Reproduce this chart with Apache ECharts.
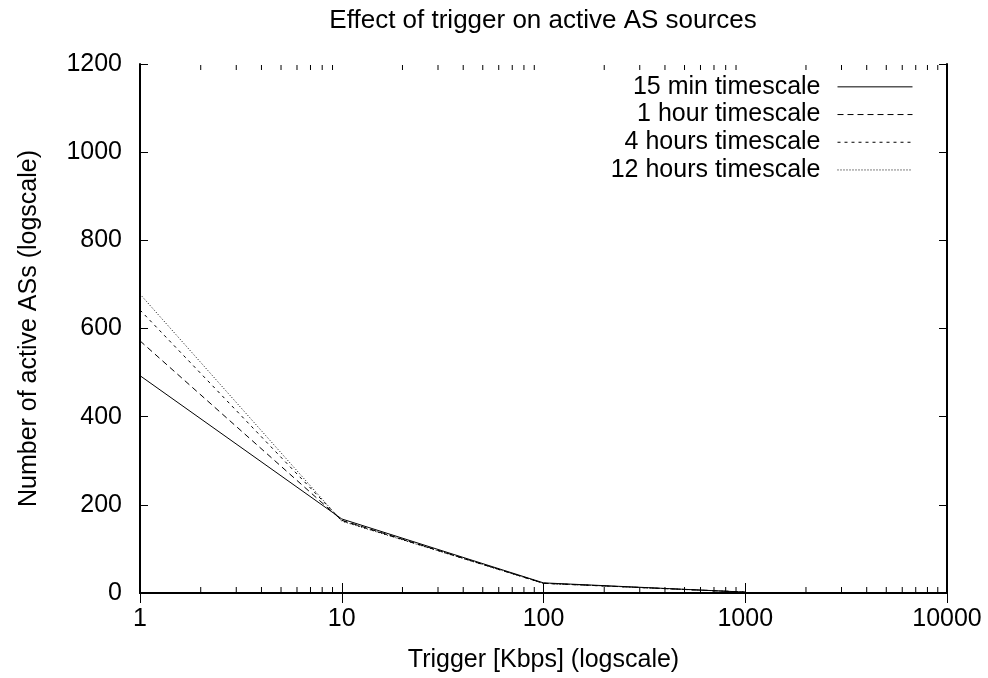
<!DOCTYPE html>
<html>
<head>
<meta charset="utf-8">
<script src="https://cdn.jsdelivr.net/npm/echarts@6/dist/echarts.min.js"></script>
<style>html,body{margin:0;padding:0;background:#fff;}#c{width:988px;height:678px;}</style>
</head>
<body>
<div id="c"></div>
<script>
const triggers = [1, 10, 100, 1000];
const min15 = [493, 168, 23, 2];
const hour1 = [572, 165, 22, 2];
const hours4 = [642, 164, 22, 2];
const hours12 = [678, 163, 22, 2];
const seriesNames = ['15 min timescale', '1 hour timescale', '4 hours timescale', '12 hours timescale'];
const xTickLabels = ['1', '10', '100', '1000', '10000'];
const minorTickValues = [2,3,4,5,6,7,8,9,20,30,40,50,60,70,80,90,200,300,400,500,600,700,800,900,2000,3000,4000,5000,6000,7000,8000,9000];

const FONT = 'Liberation Sans';
const FS = 25;
const dashes = ['solid', [6, 4], [3, 4], [1, 2]];
const values = [min15, hour1, hours4, hours12];

const chart = echarts.init(document.getElementById('c'), null, {renderer: 'canvas'});

const lineSeries = values.map((vals, i) => ({
  name: seriesNames[i],
  type: 'line',
  symbol: 'none',
  silent: true,
  animation: false,
  data: triggers.map((t, j) => [t, vals[j]]),
  lineStyle: {color: '#000', width: 1, type: dashes[i]},
  itemStyle: {color: '#000'},
  z: 3
}));

const minorSeries = {
  type: 'custom',
  silent: true,
  animation: false,
  clip: false,
  xAxisIndex: 0,
  yAxisIndex: 0,
  data: minorTickValues.map(v => [v, 0]),
  encode: {x: 0, y: 1},
  renderItem: function (params, api) {
    const v = api.value(0);
    const b = api.coord([v, 0]);
    const t = api.coord([v, 1200]);
    const L = 5;
    const st = {stroke: '#000', lineWidth: 1};
    return {
      type: 'group',
      children: [
        {type: 'line', shape: {x1: b[0], y1: b[1] - 1, x2: b[0], y2: b[1] - 1 - L}, style: st},
        {type: 'line', shape: {x1: t[0], y1: t[1] + 1, x2: t[0], y2: t[1] + 1 + L}, style: st}
      ]
    };
  },
  z: 5
};

const axisLine = {show: true, lineStyle: {color: '#000', width: 2}};

chart.setOption({
  animation: false,
  backgroundColor: '#fff',
  textStyle: {fontFamily: FONT, color: '#000'},
  title: {
    text: 'Effect of trigger on active AS sources',
    left: 543, textAlign: 'center',
    top: 8,
    padding: 0,
    textStyle: {fontFamily: FONT, fontSize: 26, fontWeight: 'normal', color: '#000'}
  },
  legend: {
    data: seriesNames,
    orient: 'vertical',
    align: 'right',
    right: 75,
    top: 73,
    padding: 0,
    itemGap: 0,
    itemWidth: 75,
    itemHeight: 14,
    selectedMode: false,
    itemStyle: {opacity: 0},
    lineStyle: {width: 1},
    textStyle: {fontFamily: FONT, fontSize: FS, color: '#000', lineHeight: 27.7, padding: [0, 12, 0, 0]}
  },
  grid: {left: 140, right: 41, top: 64, bottom: 83, containLabel: false},
  xAxis: [{
    type: 'log',
    logBase: 10,
    min: 1,
    max: 10000,
    position: 'bottom',
    name: 'Trigger [Kbps] (logscale)',
    nameLocation: 'middle',
    nameGap: 55,
    nameTextStyle: {fontFamily: FONT, fontSize: FS, color: '#000'},
    axisLine: axisLine,
    axisTick: {show: true, inside: true, length: 10, lineStyle: {color: '#000', width: 1}},
    axisLabel: {fontFamily: FONT, fontSize: FS, color: '#000', margin: 14,
      formatter: function (v) { const i = Math.round(Math.log10(v)); return xTickLabels[i] !== undefined ? xTickLabels[i] : ''; }},
    splitLine: {show: false}
  }, {
    type: 'log',
    logBase: 10,
    min: 1,
    max: 10000,
    position: 'top',
    axisLine: axisLine,
    axisTick: {show: true, inside: true, length: 10, lineStyle: {color: '#000', width: 1}},
    axisLabel: {show: false},
    splitLine: {show: false}
  }],
  yAxis: [{
    type: 'value',
    min: 0,
    max: 1200,
    interval: 200,
    position: 'left',
    name: 'Number of active ASs (logscale)',
    nameLocation: 'middle',
    nameGap: 98,
    nameTextStyle: {fontFamily: FONT, fontSize: FS, color: '#000'},
    axisLine: axisLine,
    axisTick: {show: true, inside: true, length: 8, lineStyle: {color: '#000', width: 1}},
    axisLabel: {fontFamily: FONT, fontSize: FS, color: '#000', margin: 18, formatter: function (v) { return String(v); }},
    splitLine: {show: false}
  }, {
    type: 'value',
    min: 0,
    max: 1200,
    interval: 200,
    position: 'right',
    axisLine: axisLine,
    axisTick: {show: true, inside: true, length: 8, lineStyle: {color: '#000', width: 1}},
    axisLabel: {show: false},
    splitLine: {show: false}
  }],
  series: lineSeries.concat([minorSeries])
});
</script>
</body>
</html>
